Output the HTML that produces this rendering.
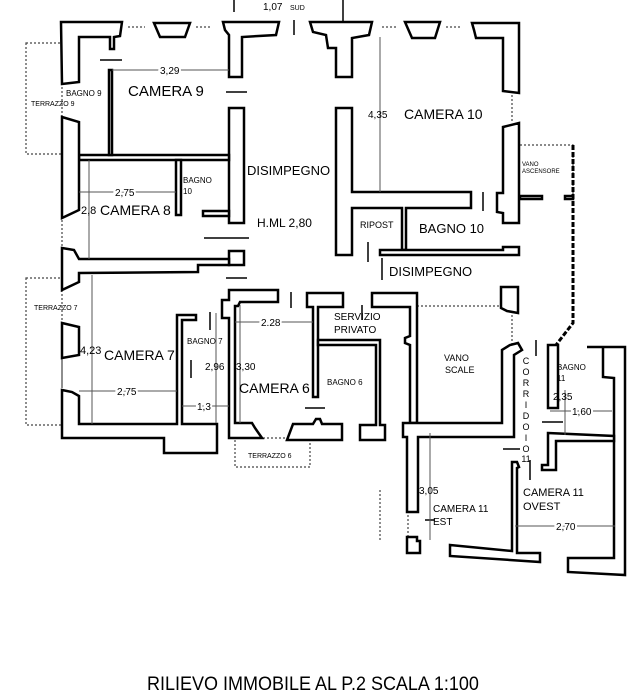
<!DOCTYPE html>
<html><head><meta charset="utf-8"><style>
html,body{margin:0;padding:0;background:#fff}
svg{display:block}
text{font-family:"Liberation Sans",sans-serif;fill:#000}
.w{fill:#fff;stroke:#000;stroke-width:2.5;stroke-linejoin:miter}
.d{fill:none;stroke:#555;stroke-width:1}
.dash{fill:none;stroke:#444;stroke-width:1.2;stroke-dasharray:2 2}
.l{stroke:#000;stroke-width:1.5}
</style></head><body>
<svg width="627" height="694" viewBox="0 0 627 694" xmlns="http://www.w3.org/2000/svg">
<rect class="dash" x="26" y="43" width="36" height="111"/>
<rect class="dash" x="26" y="278" width="36" height="147"/>
<rect class="dash" x="235" y="438" width="75" height="29"/>
<path class="dash" d="M128 27 H145 M196 27 H210 M382 27 H398 M446 27 H462 M512 95 V122 M62 220 V246 M62 360 V388 M417 306 H503 M512 315 V345 M520 145 H573 V195 M380 490 V540 M408 515 V545"/>
<path d="M573 145 V323 L556 345" stroke="#000" stroke-width="3" stroke-dasharray="5 2" fill="none"/>
<polygon class="w" points="61,22 122,22 120,36 114,37 114,49 110,49 110,37 79,37 79,82 62,84"/>
<polygon class="w" points="154,23 190,23 185,37 160,37"/>
<polygon class="w" points="223,22 279,22 276,35 242,37 242,77 229,77 229,35 225,30"/>
<polygon class="w" points="310,22 372,22 369,35 352,38 352,77 336,77 336,48 328,48 326,35 313,32"/>
<polygon class="w" points="405,22 440,22 435,38 412,38"/>
<polygon class="w" points="472,23 519,23 519,93 503,91 503,38 476,38 474,30"/>
<rect class="w" x="229" y="108" width="15" height="115"/>
<polygon class="w" points="79,155 229,155 229,160 112,160 79,160"/>
<rect class="w" x="109" y="70" width="3" height="85"/>
<polygon class="w" points="62,117 79,122 79,210 62,218"/>
<rect class="w" x="176" y="160" width="5" height="55"/>
<rect class="w" x="203" y="211" width="26" height="5"/>
<rect class="w" x="229" y="251" width="15" height="14"/>
<polygon class="w" points="62,248 74,250 79,259 229,259 229,265 198,265 198,272 79,273 79,282 62,290"/>
<polygon class="w" points="336,108 352,108 352,192 471,192 471,208 406,208 406,250 402,250 402,208 352,208 352,255 336,255"/>
<polygon class="w" points="380,250 503,250 503,247 519,247 519,255 380,255"/>
<polygon class="w" points="503,127 519,123 519,223 503,223 503,213 497,212 497,193 503,193"/>
<rect class="w" x="520" y="196" width="22" height="3"/>
<rect class="w" x="565" y="196" width="8" height="3"/>
<polygon class="w" points="62,323 79,327 79,355 62,358"/>
<polygon class="w" points="62,390 72,392 79,396 79,424 177,424 177,315 196,315 196,320 182,320 182,424 217,424 217,453 164,453 164,438 62,438"/>
<polygon class="w" points="229,290 278,290 278,302 240,302 238,306 235,306 235,423 252,423 255,428 262,438 229,438 229,318 222,318 222,300 229,300"/>
<polygon class="w" points="287,440 293,424 313,424 316,419 320,419 322,424 342,424 342,440"/>
<polygon class="w" points="307,293 343,293 343,307 318,307 318,397 313,397 313,307 307,307"/>
<polygon class="w" points="318,340 380,340 380,425 385,425 385,440 360,440 360,425 376,425 376,345 318,345"/>
<polygon class="w" points="372,293 417,293 417,423 410,423 410,345 405,343 405,338 410,336 410,307 372,307"/>
<polygon class="w" points="403,423 502,423 502,350 510,345 518,343 522,350 514,355 514,437 418,437 418,512 407,512 407,437 403,437"/>
<polygon class="w" points="501,287 518,287 518,313 507,311 501,308"/>
<polygon class="w" points="548,345 558,345 558,408 548,408"/>
<polygon class="w" points="587,347 625,347 625,575 568,572 568,558 614,558 614,378 603,377 603,347"/>
<polygon class="w" points="548,433 614,436 614,441 556,441 556,470 542,470 542,465 548,465"/>
<polygon class="w" points="512,462 517,462 519,467 517,468 517,553 540,553 540,562 450,556 450,545 512,551"/>
<polygon class="w" points="407,537 417,537 417,541 420,541 420,553 407,553"/>
<path class="l" d="M100 60 H122 M226 92 H247 M204 238 H249 M226 278 H247 M343 0 V22 M234 0 V12 M294 20 V35 M368 242 V262 M483 192 V211 M291 292 V308 M305 408 H325 M536 340 V356 M503 449 H520 M530 460 V480 M542 422 H563 M210 312 V330 M191 360 V378 M362 305 V320 M425 520 H435 M382 258 V280"/>
<path class="d" d="M112 70 H229 M380 37 V192 M89 160 V259 M79 192 H176 M92 275 V424 M79 391 H177 M235 322 H313 M216 313 V423 M240 305 V423 M182 406 H229 M430 433 V540 M515 526 H615 M550 411 H612 M565 390 V435"/>
<text x="128" y="96" font-size="15">CAMERA 9</text>
<text x="160" y="74" font-size="10" style="paint-order:stroke" stroke="#fff" stroke-width="4">3,29</text>
<text x="66" y="96" font-size="8">BAGNO 9</text>
<text x="31" y="106" font-size="7">TERRAZZO 9</text>
<text x="247" y="175" font-size="13">DISIMPEGNO</text>
<text x="183" y="183" font-size="8">BAGNO</text>
<text x="183" y="194" font-size="8">10</text>
<text x="115" y="196" font-size="10" style="paint-order:stroke" stroke="#fff" stroke-width="4">2,75</text>
<text x="81" y="214" font-size="11">2,8</text>
<text x="100" y="215" font-size="14">CAMERA 8</text>
<text x="257" y="227" font-size="12">H.ML 2,80</text>
<text x="404" y="119" font-size="14">CAMERA 10</text>
<text x="368" y="118" font-size="10">4,35</text>
<text x="360" y="228" font-size="9">RIPOST</text>
<text x="419" y="233" font-size="13">BAGNO 10</text>
<text x="389" y="276" font-size="13">DISIMPEGNO</text>
<text x="522" y="166" font-size="6">VANO</text>
<text x="522" y="173" font-size="6">ASCENSORE</text>
<text x="34" y="310" font-size="7">TERRAZZO 7</text>
<text x="80" y="354" font-size="11">4,23</text>
<text x="104" y="360" font-size="14">CAMERA 7</text>
<text x="187" y="344" font-size="8">BAGNO 7</text>
<text x="117" y="395" font-size="10" style="paint-order:stroke" stroke="#fff" stroke-width="4">2,75</text>
<text x="197" y="410" font-size="10" style="paint-order:stroke" stroke="#fff" stroke-width="4">1,3</text>
<text x="205" y="370" font-size="10">2,96</text>
<text x="236" y="370" font-size="10">3,30</text>
<text x="239" y="393" font-size="14">CAMERA 6</text>
<text x="261" y="326" font-size="10" style="paint-order:stroke" stroke="#fff" stroke-width="4">2.28</text>
<text x="248" y="458" font-size="7">TERRAZZO 6</text>
<text x="334" y="320" font-size="10">SERVIZIO</text>
<text x="334" y="333" font-size="10">PRIVATO</text>
<text x="327" y="385" font-size="8">BAGNO 6</text>
<text x="444" y="361" font-size="9">VANO</text>
<text x="445" y="373" font-size="9">SCALE</text>
<g font-size="9" text-anchor="middle"><text x="526" y="364">C</text><text x="526" y="375">O</text><text x="526" y="386">R</text><text x="526" y="397">R</text><text x="526" y="408">I</text><text x="526" y="419">D</text><text x="526" y="430">O</text><text x="526" y="441">I</text><text x="526" y="452">O</text><text x="526" y="462">11</text></g>
<text x="557" y="370" font-size="8">BAGNO</text>
<text x="557" y="381" font-size="8">11</text>
<text x="553" y="400" font-size="10">2,35</text>
<text x="572" y="415" font-size="10" style="paint-order:stroke" stroke="#fff" stroke-width="4">1,60</text>
<text x="419" y="494" font-size="10">3,05</text>
<text x="433" y="512" font-size="10">CAMERA 11</text>
<text x="433" y="525" font-size="10">EST</text>
<text x="523" y="496" font-size="11">CAMERA 11</text>
<text x="523" y="510" font-size="11">OVEST</text>
<text x="556" y="530" font-size="10" style="paint-order:stroke" stroke="#fff" stroke-width="4">2,70</text>
<text x="263" y="10" font-size="10">1,07</text>
<text x="290" y="10" font-size="7">SUD</text>
<text x="313" y="690" font-size="18" text-anchor="middle" transform="translate(0,690) scale(1,1.1) translate(0,-690)">RILIEVO IMMOBILE AL P.2 SCALA 1:100</text>
</svg>
</body></html>
